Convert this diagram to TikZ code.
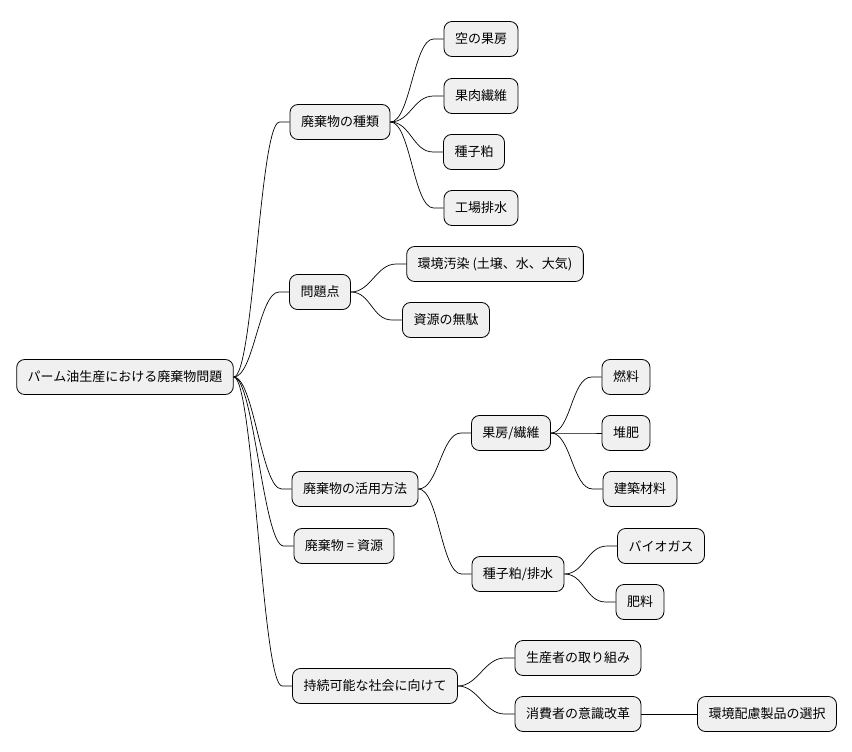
\documentclass[tikz,border=0pt]{standalone}
\usepackage{fontspec}
\setmainfont{Noto Sans CJK JP}
\begin{document}
\begin{tikzpicture}[x=1pt,y=-1pt,
  box/.style={draw=black,fill=black!6,rounded corners=8pt,minimum height=35pt,inner xsep=11pt,font=\fontsize{13}{15}\selectfont,line width=0.8pt},
  lnk/.style={line width=0.7pt}]
\useasboundingbox (0,0) rectangle (852,752);
\node[box] (r) at (125,377) {パーム油生産における廃棄物問題};
\node[box] (a) at (340,122) {廃棄物の種類};
\node[box] (a1) at (481,39) {空の果房};
\node[box] (a2) at (481,96) {果肉繊維};
\node[box] (a3) at (474,152) {種子粕};
\node[box] (a4) at (481,208) {工場排水};
\node[box] (b) at (320,292) {問題点};
\node[box] (b1) at (495,264) {環境汚染 (土壌、水、大気)};
\node[box] (b2) at (446,320) {資源の無駄};
\node[box] (c) at (355,489) {廃棄物の活用方法};
\node[box] (c1) at (511,433) {果房/繊維};
\node[box] (c11) at (626,377) {燃料};
\node[box] (c12) at (626,433) {堆肥};
\node[box] (c13) at (640,489) {建築材料};
\node[box] (c2) at (518,574) {種子粕/排水};
\node[box] (c21) at (661,546) {バイオガス};
\node[box] (c22) at (640,602) {肥料};
\node[box] (d) at (344,546) {廃棄物 = 資源};
\node[box] (e) at (375,686) {持続可能な社会に向けて};
\node[box] (e1) at (578,658) {生産者の取り組み};
\node[box] (e2) at (578,714) {消費者の意識改革};
\node[box] (e21) at (767,714) {環境配慮製品の選択};
\foreach \p/\c in {r/a,r/b,r/c,r/d,r/e,a/a1,a/a2,a/a3,a/a4,b/b1,b/b2,c/c1,c/c2,c1/c11,c1/c12,c1/c13,c2/c21,c2/c22,e/e1,e/e2}
  \draw[lnk] (\p.east) .. controls ([xshift=20pt]\p.east) and ([xshift=-30pt]\c.west) .. ([xshift=-10pt]\c.west) -- (\c.west);
\draw[lnk] (e2.east) -- (e21.west);
\end{tikzpicture}
\end{document}
